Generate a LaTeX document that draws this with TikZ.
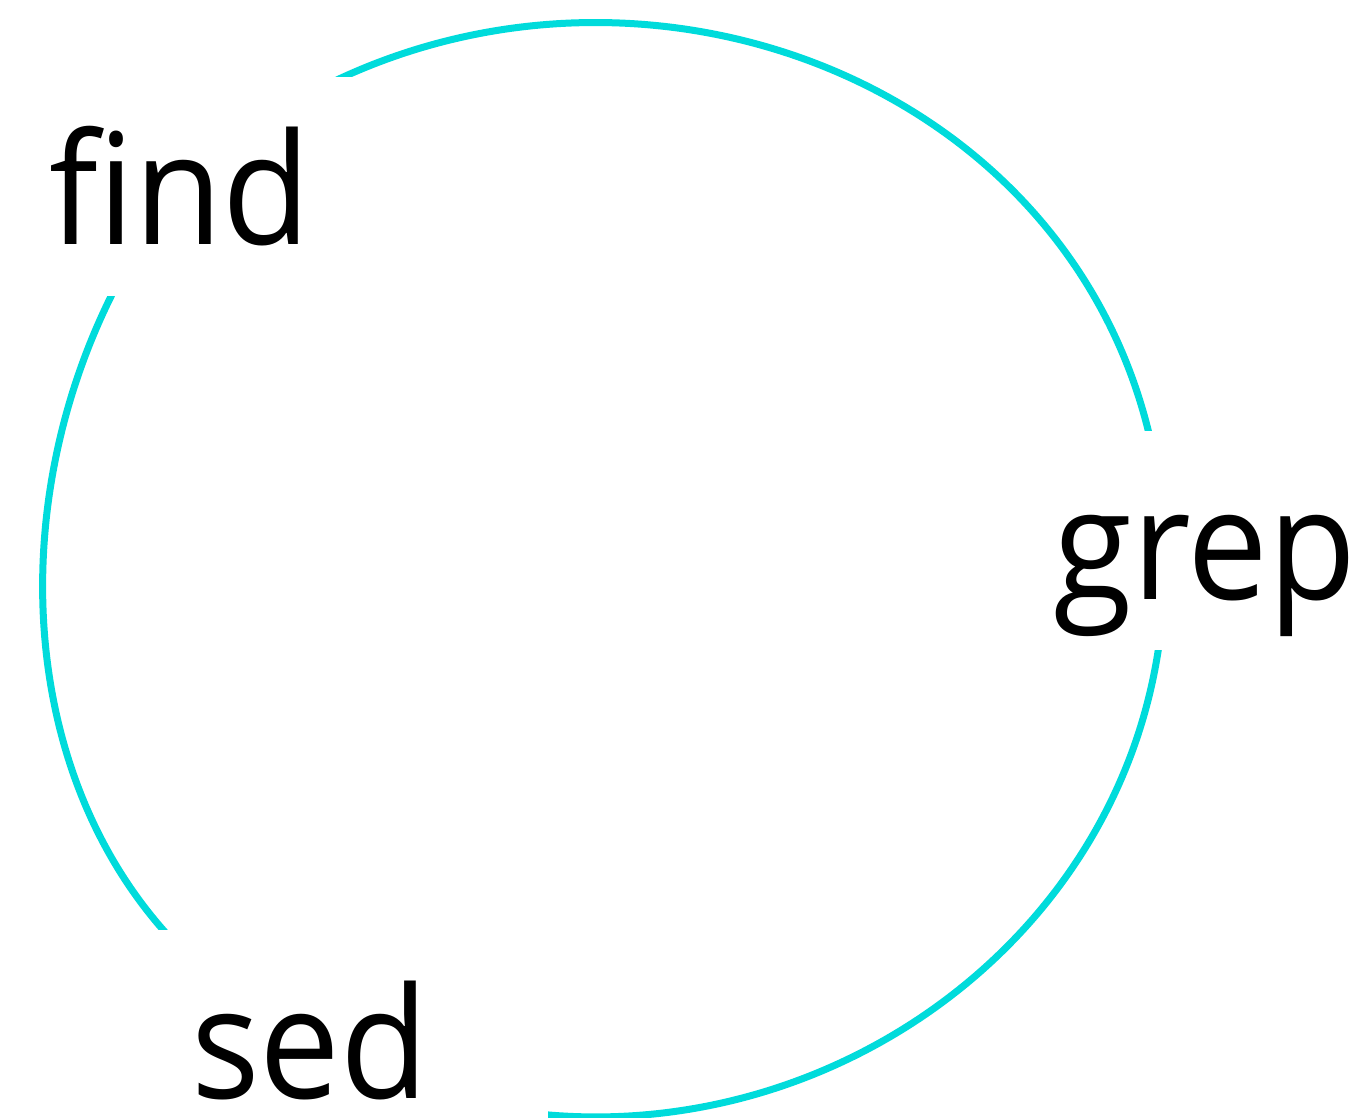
\documentclass[tikz,border=0pt]{standalone}
\usepackage{fontspec}
\setmainfont{Open Sans}
\newfontfamily\cmdfont[FakeStretch=0.93]{Open Sans}
\usetikzlibrary{
    calc,
    backgrounds
}
\definecolor{ringcyan}{RGB}{0,219,219}
\tikzset{
    % --- Command name (white box hides the ring behind it) ---
    cmd/.style = {
        rectangle, fill=white, inner sep=0pt,
        minimum width=4.76cm, minimum height=2.19cm,
        text height=1.17cm, text depth=0pt,
        font=\cmdfont\fontsize{44}{44}\selectfont
    },
    % --- Ring segment from one command to the next ---
    ring/.style = {
        draw=ringcyan, line width=0.07cm
    }
}

\begin{document}
\begin{tikzpicture}

\useasboundingbox (0,0) rectangle (13.72,11.17);

% ---------------------------------------------------------
% Commands
% ---------------------------------------------------------
\node[cmd] (find) at (1.80, 9.305) {find};
\node[cmd] (grep) at (12.05, 5.765) {grep};
\node[cmd] (sed) at (3.10, 0.775) {sed};

% ring passes a little left of the grep label
\coordinate (grepHub) at ($(grep.center)+(-0.41,0)$);

% ---------------------------------------------------------
% Ring (behind the boxes)
% ---------------------------------------------------------
\begin{pgfonlayer}{background}
\draw[ring] (find.center) to[out=43, in=92.6, looseness=1.19] (grepHub);
\draw[ring] (grepHub) to[out=-87.4, in=-30.1, looseness=1.139] (sed.center);
\draw[ring] (sed.center) to[out=155, in=-128, looseness=1.03] (find.center);
\end{pgfonlayer}

\end{tikzpicture}
\end{document}
